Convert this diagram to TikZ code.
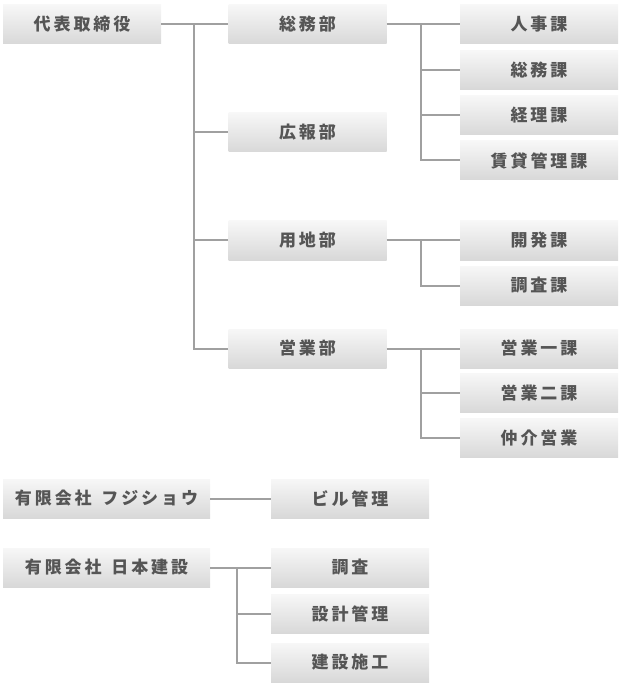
\documentclass[tikz,border=0pt]{standalone}
\usepackage{fontspec}
\newfontfamily\jpfont[LetterSpace=17]{Noto Sans CJK JP}
\usepackage{tikz}
\usetikzlibrary{positioning}

\definecolor{boxtop}{HTML}{F7F7F7}
\definecolor{boxbot}{HTML}{D8D8D8}
\definecolor{linegray}{HTML}{A0A0A0}
\definecolor{textgray}{HTML}{555555}

\tikzset{
  unit/.style={rectangle, top color=boxtop, bottom color=boxbot, draw=none,
    minimum width=158pt, minimum height=39pt, inner sep=0pt,
    font=\jpfont\bfseries\fontsize{17}{19}\selectfont, text=textgray},
  company/.style={unit, minimum width=207pt},
  link/.style={draw=linegray, line width=2pt},
}

\begin{document}
\begin{tikzpicture}[x=1pt,y=-1pt]
		\useasboundingbox (0,0) rectangle (620,684);
		% head office
		\node[unit] (ceo) at (82,24.5) {代表取締役};
		
		\node[unit] (somu) at (307.5,24.5) {総務部};
		\node[unit] (koho) at (307.5,132.5) {広報部};
		\node[unit] (yochi) at (307.5,240.5) {用地部};
		\node[unit] (eigyo) at (307.5,348.5) {営業部};
		
		\node[unit] (jinji) at (539,24.5) {人事課};
		\node[unit] (somuka) at (539,70) {総務課};
		\node[unit] (keiri) at (539,115.5) {経理課};
		\node[unit] (chintai) at (539,160.5) {賃貸管理課};
		\node[unit] (kaihatsu) at (539,240.5) {開発課};
		\node[unit] (chosaka) at (539,285.5) {調査課};
		\node[unit] (eigyo1) at (539,348.5) {営業一課};
		\node[unit] (eigyo2) at (539,393) {営業二課};
		\node[unit] (chukai) at (539,438) {仲介営業};
		
		\coordinate (t1) at (194,24.5);
		\coordinate (t2) at (421,24.5);
		\coordinate (t3) at (421,240.5);
		\coordinate (t4) at (421,348.5);
		
		\draw[link] (ceo) -- (somu);
		\foreach \d in {koho,yochi,eigyo}
			\draw[link] (t1) |- (\d.west);
		\draw[link] (somu) -- (jinji);
		\foreach \d in {somuka,keiri,chintai}
			\draw[link] (t2) |- (\d.west);
		\draw[link] (yochi) -- (kaihatsu);
		\draw[link] (t3) |- (chosaka.west);
		\draw[link] (eigyo) -- (eigyo1);
		\foreach \d in {eigyo2,chukai}
			\draw[link] (t4) |- (\d.west);
		
		% group companies
		\node[company] (fuji) at (106.5,498.5) {有限会社\hspace{3pt} フジショウ};
		\node[unit] (biru) at (350,498.5) {ビル管理};
		\draw[link] (fuji) -- (biru);
		
		\node[company] (nihon) at (106.5,567.5) {有限会社\hspace{3pt} 日本建設};
		\node[unit] (chosa) at (350,567.5) {調査};
		\node[unit] (sekkei) at (350,614) {設計管理};
		\node[unit] (kensetsu) at (350,662.5) {建設施工};
		\coordinate (t5) at (237,567.5);
		\draw[link] (nihon) -- (chosa);
		\foreach \d in {sekkei,kensetsu}
			\draw[link] (t5) |- (\d.west);
\end{tikzpicture}
\end{document}
